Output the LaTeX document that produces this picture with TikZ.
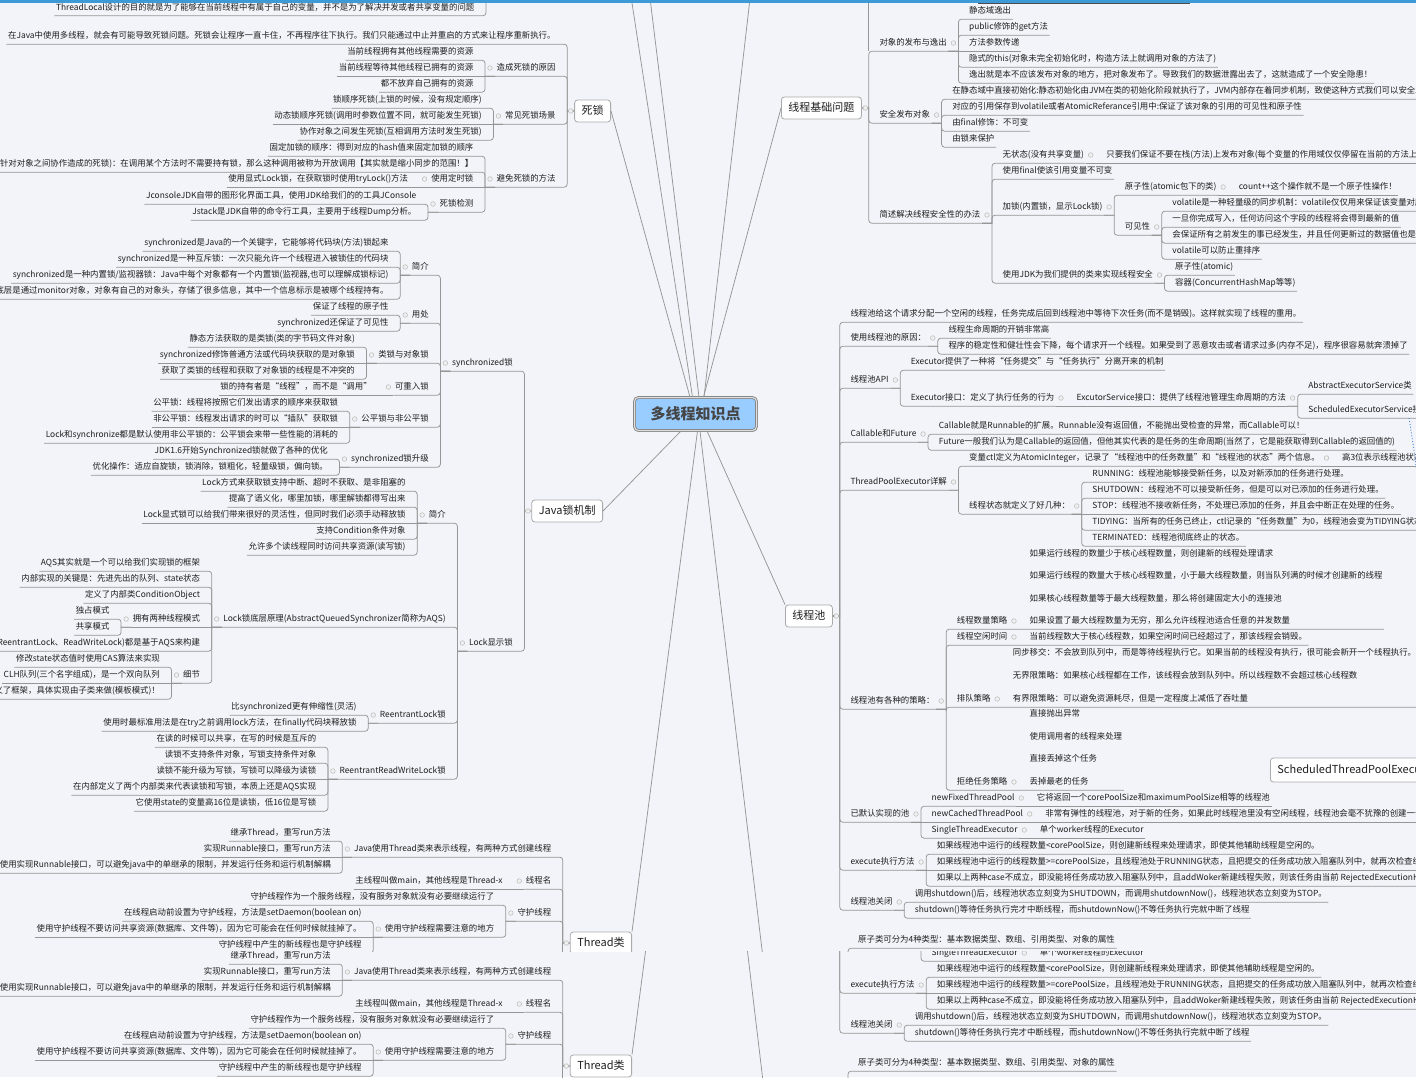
\documentclass[tikz,border=0pt]{standalone}
\usepackage{fontspec}
\setmainfont{Noto Sans CJK SC}
\definecolor{bg}{RGB}{242,244,249}
\definecolor{bar}{RGB}{60,154,215}
\definecolor{ln}{RGB}{150,150,150}
\definecolor{txt}{RGB}{30,30,30}
\definecolor{rootf}{RGB}{153,204,255}
\definecolor{rootd}{RGB}{135,135,135}
\definecolor{roott}{RGB}{70,70,70}
\definecolor{boxd}{RGB}{170,170,170}
\definecolor{relc}{RGB}{60,130,215}
\tikzset{
  tx/.style={inner xsep=1.5pt, inner ysep=3.5pt, text height=7pt, text depth=2pt, font=\fontsize{8.4}{10}\selectfont, text=txt},
  txl/.style={tx, anchor=east},
  txr/.style={tx, anchor=west},
  topic/.style={draw=boxd, fill=white, rounded corners=3pt, line width=0.8pt, font=\fontsize{11}{13}\selectfont, text=txt, inner xsep=7pt, inner ysep=5.5pt, text height=8.5pt, text depth=2.5pt},
  rootbox/.style={draw=rootd, line width=0.9pt, double=white!75!gray, double distance=1pt, fill=rootf, rounded corners=4pt, minimum width=122pt, minimum height=33pt, inner sep=0pt, font=\fontsize{15}{18}\selectfont\bfseries, text=roott},
  conn/.style={draw=ln, line width=0.75pt},
  mk/.style={draw=gray!55, fill=gray!12, line width=0.5pt},
  relline/.style={draw=relc, line width=0.9pt, dotted},
}
% node placement
\newcommand\NL[4]{\node[txl] (#1) at ([xshift=-20pt]#2.west |- 0,#3) {#4};}
\newcommand\NR[4]{\node[txr] (#1) at ([xshift=19pt]#2.east |- 0,#3) {#4};}
\newcommand\NLB[4]{\node[txl] (#1) at ([xshift=-17pt]#2.west |- 0,#3) {#4};}
\newcommand\NRB[4]{\node[txr] (#1) at ([xshift=16pt]#2.east |- 0,#3) {#4};}
% connectors (parent, child)
\newcommand\LL[2]{\draw[conn] (#2.south west) [rounded corners=3pt] -- ([xshift=-10pt]#1.west |- #2.south) [sharp corners] -- ([xshift=-10pt]#1.south west) -- (#1.south west);}
\newcommand\LS[2]{\draw[conn] (#2.south west) -- (#1.south west);}
\newcommand\LB[2]{\draw[conn] (#2.south west) [rounded corners=3pt] -- ([xshift=-7pt]#1.west |- #2.south) [sharp corners] -- ([xshift=-7pt]#1.west) -- (#1.west);}
\newcommand\RR[2]{\draw[conn] (#1.south east) -- ([xshift=10pt]#1.south east) [rounded corners=3pt] -- ([xshift=10pt]#1.east |- #2.south) -- (#2.south east);}
\newcommand\RS[2]{\draw[conn] (#1.south east) -- (#2.south east);}
\newcommand\RB[2]{\draw[conn] (#1.east) -- ([xshift=7pt]#1.east) [rounded corners=3pt] -- ([xshift=7pt]#1.east |- #2.south) -- (#2.south east);}
\newcommand\RRe[3]{\draw[conn] (#1.south east) -- ([xshift=10pt]#1.south east) [rounded corners=3pt] -- ([xshift=10pt]#1.east |- #2.south) -- (#2.south -| #3.east);}
% markers
\newcommand\ML[1]{\filldraw[mk] ([xshift=-5pt]#1.west) circle (2.3pt);}
\newcommand\MR[1]{\filldraw[mk] ([xshift=5pt]#1.east) circle (2.3pt);}
\newcommand\MLB[1]{\filldraw[mk] ([xshift=-3.5pt]#1.west) circle (2.3pt);}
\newcommand\MRB[1]{\filldraw[mk] ([xshift=3.5pt]#1.east) circle (2.3pt);}
\newcommand\Hid[1]{#1}

% ---------- part that also shows in the repeated lower band ----------
\newcommand\PartB{%
\node[rootbox] (root) at (695.5,414) {\Hid{多线程知识点}};
\node[topic,anchor=west] (pool) at (785,616) {\Hid{线程池}};
\node[topic,anchor=east] (thr) at (632,943) {Thread类};
\coordinate (dn) at (768,1000);
\draw[conn] (thr.north east) -- ([xshift=2pt]root.south);
\draw[conn] (dn) -- ([xshift=4.5pt]root.south);
% ===== Thread类 =====
\NLB{t1}{thr}{849}{Java使用Thread类来表示线程，有两种方式创建线程}
\NLB{t2}{thr}{881}{线程名}
\NLB{t3}{thr}{913}{守护线程}
\LB{thr}{t1}\LB{thr}{t2}\LB{thr}{t3}
\draw[conn] ([xshift=-7pt]thr.west) -- ([xshift=-7pt]thr.west |- dn);
\NL{t11}{t1}{833}{继承Thread，重写run方法}
\NL{t12}{t1}{849}{实现Runnable接口，重写run方法}
\NL{t13}{t1}{865}{使用实现Runnable接口，可以避免java中的单继承的限制，并发运行任务和运行机制解耦}
\LL{t1}{t11}\LS{t1}{t12}\LL{t1}{t13}
\NL{t21}{t2}{881}{主线程叫做main，其他线程是Thread-x}
\LS{t2}{t21}
\NL{t31}{t3}{897}{守护线程作为一个服务线程，没有服务对象就没有必要继续运行了}
\NL{t32}{t3}{929}{使用守护线程需要注意的地方}
\LL{t3}{t31}\LL{t3}{t32}
\NL{t321}{t32}{913}{在线程启动前设置为守护线程，方法是setDaemon(boolean on)}
\NL{t322}{t32}{929}{使用守护线程不要访问共享资源(数据库、文件等)，因为它可能会在任何时候就挂掉了。}
\NL{t323}{t32}{945}{守护线程中产生的新线程也是守护线程}
\LL{t32}{t321}\LS{t32}{t322}\LL{t32}{t323}
\MLB{thr}\ML{t1}\ML{t2}\ML{t3}\ML{t32}
% ===== 线程池: lower branches =====
\NRB{p7}{pool}{814}{\Hid{已默认实现的池}}
\NRB{p8}{pool}{862}{execute执行方法}
\NRB{p9}{pool}{902}{线程池关闭}
\RB{pool}{p7}\RB{pool}{p8}\RB{pool}{p9}
\NR{p71}{p7}{798}{\Hid{newFixedThreadPool}}
\NR{p72}{p7}{814}{\Hid{newCachedThreadPool}}
\NR{p73}{p7}{830}{SingleThreadExecutor}
\RR{p7}{p71}\RS{p7}{p72}\RR{p7}{p73}
\NR{p711}{p71}{798}{\Hid{它将返回一个corePoolSize和maximumPoolSize相等的线程池}}
\NR{p721}{p72}{814}{\Hid{非常有弹性的线程池，对于新的任务，如果此时线程池里没有空闲线程，线程池会毫不犹豫的创建一个新的线程去处理这个任务}}
\NR{p731}{p73}{830}{单个worker线程的Executor}
\RS{p71}{p711}\RS{p72}{p721}\RS{p73}{p731}
\NR{p81}{p8}{846}{如果线程池中运行的线程数量<corePoolSize，则创建新线程来处理请求，即使其他辅助线程是空闲的。}
\NR{p82}{p8}{862}{如果线程池中运行的线程数量>=corePoolSize，且线程池处于RUNNING状态，且把提交的任务成功放入阻塞队列中，就再次检查线程池的状态}
\NR{p83}{p8}{878}{如果以上两种case不成立，即没能将任务成功放入阻塞队列中，且addWoker新建线程失败，则该任务由当前 RejectedExecutionHandler进行处理。}
\RR{p8}{p81}\RS{p8}{p82}\RR{p8}{p83}
\NR{p91}{p9}{894}{调用shutdown()后，线程池状态立刻变为SHUTDOWN，而调用shutdownNow()，线程池状态立刻变为STOP。}
\NR{p92}{p9}{910}{shutdown()等待任务执行完才中断线程，而shutdownNow()不等任务执行完就中断了线程}
\RR{p9}{p91}\RR{p9}{p92}
\MR{p7}\MR{p71}\MR{p72}\MR{p73}\MR{p8}\MR{p9}
% ===== 原子类 fragment =====
\node[txr] (atom) at (856.5,940) {原子类可分为4种类型：基本数据类型、数组、引用类型、对象的属性};
\coordinate (atomp) at (848,1010);
\draw[conn] (atom.south east) [rounded corners=3pt] -- (atom.south -| atomp) -- (atomp);
}

% ---------- part shown only once ----------
\newcommand\PartA{%
\node[topic,anchor=east] (dead) at (611,111) {死锁};
\node[topic,anchor=west] (basic) at (781,108) {线程基础问题};
\node[topic,anchor=east] (jlock) at (603,511) {Java锁机制};
\coordinate (up1) at (630,-10);
\coordinate (up2) at (649,-10);
\coordinate (up3) at (751,-10);
\draw[conn] (up1) -- ([xshift=-3pt]root.north);
\draw[conn] (up2) -- ([xshift=3.5pt]root.north);
\draw[conn] (up3) -- ([xshift=8.5pt]root.north);
\draw[conn] (dead.east) -- ([xshift=-5.5pt]root.north);
\draw[conn] (basic.west) -- ([xshift=8pt]root.north);
\draw[conn] (jlock.east) -- ([xshift=-14.5pt]root.south);
\draw[conn] (pool.north west) -- ([xshift=11.5pt]root.south);
% fragments at the top
\node[txl] (tlo) at (476,7.5) {ThreadLocal设计的目的就是为了能够在当前线程中有属于自己的变量，并不是为了解决并发或者共享变量的问题};
\coordinate (tlp) at (486,-20);
\draw[conn] (tlo.south west) [rounded corners=3pt] -- (tlo.south -| tlp) -- (tlp);
\coordinate (trA) at (978,3.5);
\coordinate (trB) at (1190,3.5);
\draw[conn,draw=gray!60!black] (trA) -- (trB);
% ===== 死锁 =====
\NLB{d1}{dead}{36}{在Java中使用多线程，就会有可能导致死锁问题。死锁会让程序一直卡住，不再程序往下执行。我们只能通过中止并重启的方式来让程序重新执行。}
\NLB{d2}{dead}{68}{造成死锁的原因}
\NLB{d3}{dead}{116}{常见死锁场景}
\NLB{d4}{dead}{179}{避免死锁的方法}
\LB{dead}{d1}\LB{dead}{d2}\LB{dead}{d3}\LB{dead}{d4}
\NL{d21}{d2}{52}{当前线程拥有其他线程需要的资源}
\NL{d22}{d2}{68}{当前线程等待其他线程已拥有的资源}
\NL{d23}{d2}{84}{都不放弃自己拥有的资源}
\LL{d2}{d21}\LS{d2}{d22}\LL{d2}{d23}
\NL{d31}{d3}{100}{锁顺序死锁(上锁的时候，没有规定顺序)}
\NL{d32}{d3}{116}{动态锁顺序死锁(调用时参数位置不同，就可能发生死锁)}
\NL{d33}{d3}{132}{协作对象之间发生死锁(互相调用方法时发生死锁)}
\LL{d3}{d31}\LS{d3}{d32}\LL{d3}{d33}
\NL{d41}{d4}{148}{固定加锁的顺序：得到对应的hash值来固定加锁的顺序}
\NL{d42}{d4}{164}{开放调用(针对对象之间协作造成的死锁)：在调用某个方法时不需要持有锁，那么这种调用被称为开放调用【其实就是缩小同步的范围！】}
\NL{d43}{d4}{179}{使用定时锁}
\NL{d44}{d4}{204}{死锁检测}
\LL{d4}{d41}\LL{d4}{d42}\LS{d4}{d43}\LL{d4}{d44}
\NL{d431}{d43}{179}{使用显式Lock锁，在获取锁时使用tryLock()方法}
\LS{d43}{d431}
\NL{d441}{d44}{196}{JconsoleJDK自带的图形化界面工具，使用JDK给我们的的工具JConsole}
\NL{d442}{d44}{212}{Jstack是JDK自带的命令行工具，主要用于线程Dump分析。}
\LL{d44}{d441}\LL{d44}{d442}
\MLB{dead}\ML{d2}\ML{d3}\ML{d4}\ML{d43}\ML{d44}
% ===== 线程基础问题 =====
\NRB{b1}{basic}{43}{对象的发布与逸出}
\NRB{b2}{basic}{115}{安全发布对象}
\NRB{b3}{basic}{215}{简述解决线程安全性的办法}
\RB{basic}{b1}\RB{basic}{b2}\RB{basic}{b3}
\draw[conn] ([xshift=7pt]basic.east |- b1.south) -- ([xshift=7pt]basic.east |- up1);
\NR{b11}{b1}{11}{静态域逸出}
\NR{b12}{b1}{27}{public修饰的get方法}
\NR{b13}{b1}{43}{方法参数传递}
\NR{b14}{b1}{59}{隐式的this(对象未完全初始化时，构造方法上就调用对象的方法了)}
\NR{b15}{b1}{75}{逸出就是本不应该发布对象的地方，把对象发布了。导致我们的数据泄露出去了，这就造成了一个安全隐患！}
\RR{b1}{b11}\RR{b1}{b12}\RS{b1}{b13}\RR{b1}{b14}\RR{b1}{b15}
\NR{b21}{b2}{91}{在静态域中直接初始化:静态初始化由JVM在类的初始化阶段就执行了，JVM内部存在着同步机制，致使这种方式我们可以安全发布对象}
\NR{b22}{b2}{107}{对应的引用保存到volatile或者AtomicReferance引用中:保证了该对象的引用的可见性和原子性}
\NR{b23}{b2}{123}{由final修饰：不可变}
\NR{b24}{b2}{139}{由锁来保护}
\RR{b2}{b21}\RR{b2}{b22}\RR{b2}{b23}\RR{b2}{b24}
\NR{b31}{b3}{155}{无状态(没有共享变量)}
\NR{b32}{b3}{171}{使用final使该引用变量不可变}
\NR{b33}{b3}{207}{加锁(内置锁，显示Lock锁)}
\NR{b34}{b3}{275}{使用JDK为我们提供的类来实现线程安全}
\RR{b3}{b31}\RR{b3}{b32}\RR{b3}{b33}\RR{b3}{b34}
\NR{b311}{b31}{155}{只要我们保证不要在栈(方法)上发布对象(每个变量的作用域仅仅停留在当前的方法上)，那么我们的线程就是安全的}
\RS{b31}{b311}
\NR{b331}{b33}{187}{原子性(atomic包下的类)}
\NR{b332}{b33}{227}{可见性}
\RR{b33}{b331}\RR{b33}{b332}
\NR{b3311}{b331}{187}{count++这个操作就不是一个原子性操作！}
\RS{b331}{b3311}
\NR{b3321}{b332}{203}{volatile是一种轻量级的同步机制：volatile仅仅用来保证该变量对所有线程的可见性，但不保证原子性}
\NR{b3322}{b332}{219}{一旦你完成写入，任何访问这个字段的线程将会得到最新的值}
\NR{b3323}{b332}{235}{会保证所有之前发生的事已经发生，并且任何更新过的数据值也是可见的}
\NR{b3324}{b332}{251}{volatile可以防止重排序}
\RR{b332}{b3321}\RR{b332}{b3322}\RR{b332}{b3323}\RR{b332}{b3324}
\NR{b341}{b34}{267}{原子性(atomic)}
\NR{b342}{b34}{283}{容器(ConcurrentHashMap等等)}
\RR{b34}{b341}\RR{b34}{b342}
\MRB{basic}\MR{b1}\MR{b2}\MR{b3}\MR{b31}\MR{b33}\MR{b331}\MR{b332}\MR{b34}
% ===== Java锁机制 =====
\NLB{s}{jlock}{363}{synchronized锁}
\NLB{L}{jlock}{643}{Lock显示锁}
\LB{jlock}{s}\LB{jlock}{L}
\NL{s1}{s}{267}{简介}
\NL{s2}{s}{315}{用处}
\NL{s3}{s}{355}{类锁与对象锁}
\NL{s4}{s}{387}{可重入锁}
\NL{s5}{s}{419}{公平锁与非公平锁}
\NL{s6}{s}{459}{synchronized锁升级}
\LL{s}{s1}\LL{s}{s2}\LL{s}{s3}\LL{s}{s4}\LL{s}{s5}\LL{s}{s6}
\NL{s11}{s1}{243}{synchronized是Java的一个关键字，它能够将代码块(方法)锁起来}
\NL{s12}{s1}{259}{synchronized是一种互斥锁：一次只能允许一个线程进入被锁住的代码块}
\NL{s13}{s1}{275}{synchronized是一种内置锁/监视器锁：Java中每个对象都有一个内置锁(监视器,也可以理解成锁标记)}
\NL{s14}{s1}{291}{synchronized底层是通过monitor对象，对象有自己的对象头，存储了很多信息，其中一个信息标示是被哪个线程持有。}
\LL{s1}{s11}\LL{s1}{s12}\LL{s1}{s13}\LL{s1}{s14}
\NL{s21}{s2}{307}{保证了线程的原子性}
\NL{s22}{s2}{323}{synchronized还保证了可见性}
\LL{s2}{s21}\LL{s2}{s22}
\NL{s31}{s3}{339}{静态方法获取的是类锁(类的字节码文件对象)}
\NL{s32}{s3}{355}{synchronized修饰普通方法或代码块获取的是对象锁}
\NL{s33}{s3}{371}{获取了类锁的线程和获取了对象锁的线程是不冲突的}
\LL{s3}{s31}\LS{s3}{s32}\LL{s3}{s33}
\NL{s41}{s4}{387}{锁的持有者是“线程”，而不是“调用”}
\LS{s4}{s41}
\NL{s51}{s5}{403}{公平锁：线程将按照它们发出请求的顺序来获取锁}
\NL{s52}{s5}{419}{非公平锁：线程发出请求的时可以“插队”获取锁}
\NL{s53}{s5}{435}{Lock和synchronize都是默认使用非公平锁的：公平锁会来带一些性能的消耗的}
\LL{s5}{s51}\LS{s5}{s52}\LL{s5}{s53}
\NL{s61}{s6}{451}{JDK1.6开始Synchronized锁就做了各种的优化}
\NL{s62}{s6}{467}{优化操作：适应自旋锁，锁消除，锁粗化，轻量级锁，偏向锁。}
\LL{s6}{s61}\LL{s6}{s62}
\NL{L1}{L}{515}{简介}
\NL{L2}{L}{619}{Lock锁底层原理(AbstractQueuedSynchronizer简称为AQS)}
\NL{L3}{L}{715}{ReentrantLock锁}
\NL{L4}{L}{771}{ReentrantReadWriteLock锁}
\LL{L}{L1}\LL{L}{L2}\LL{L}{L3}\LL{L}{L4}
\NL{L11}{L1}{483}{Lock方式来获取锁支持中断、超时不获取、是非阻塞的}
\NL{L12}{L1}{499}{提高了语义化，哪里加锁，哪里解锁都得写出来}
\NL{L13}{L1}{515}{Lock显式锁可以给我们带来很好的灵活性，但同时我们必须手动释放锁}
\NL{L14}{L1}{531}{支持Condition条件对象}
\NL{L15}{L1}{547}{允许多个读线程同时访问共享资源(读写锁)}
\LL{L1}{L11}\LL{L1}{L12}\LS{L1}{L13}\LL{L1}{L14}\LL{L1}{L15}
\NL{L21}{L2}{563}{AQS其实就是一个可以给我们实现锁的框架}
\NL{L22}{L2}{579}{内部实现的关键是：先进先出的队列、state状态}
\NL{L23}{L2}{595}{定义了内部类ConditionObject}
\NL{L24}{L2}{619}{拥有两种线程模式}
\NL{L25}{L2}{643}{很多同步器(ReentrantLock、ReadWriteLock)都是基于AQS来构建}
\NL{L26}{L2}{675}{细节}
\LL{L2}{L21}\LL{L2}{L22}\LL{L2}{L23}\LS{L2}{L24}\LL{L2}{L25}\LL{L2}{L26}
\NL{L241}{L24}{611}{独占模式}
\NL{L242}{L24}{627}{共享模式}
\LL{L24}{L241}\LL{L24}{L242}
\NL{L261}{L26}{659}{修改state状态值时使用CAS算法来实现}
\NL{L262}{L26}{675}{CLH队列(三个名字组成)，是一个双向队列}
\NL{L263}{L26}{691}{AQS定义了框架，具体实现由子类来做(模板模式)！}
\LL{L26}{L261}\LS{L26}{L262}\LL{L26}{L263}
\NL{L31}{L3}{707}{比synchronized更有伸缩性(灵活)}
\NL{L32}{L3}{723}{使用时最标准用法是在try之前调用lock方法，在finally代码块释放锁}
\LL{L3}{L31}\LL{L3}{L32}
\NL{L41}{L4}{739}{在读的时候可以共享，在写的时候是互斥的}
\NL{L42}{L4}{755}{读锁不支持条件对象，写锁支持条件对象}
\NL{L43}{L4}{771}{读锁不能升级为写锁，写锁可以降级为读锁}
\NL{L44}{L4}{787}{在内部定义了两个内部类来代表读锁和写锁，本质上还是AQS实现}
\NL{L45}{L4}{803}{它使用state的变量高16位是读锁，低16位是写锁}
\LL{L4}{L41}\LL{L4}{L42}\LS{L4}{L43}\LL{L4}{L44}\LL{L4}{L45}
\MLB{jlock}\ML{s}\ML{L}\ML{s1}\ML{s2}\ML{s3}\ML{s4}\ML{s5}\ML{s6}\ML{L1}\ML{L2}\ML{L24}\ML{L26}\ML{L3}\ML{L4}
% ===== 线程池: upper branches =====
\NRB{p1}{pool}{314}{线程池给这个请求分配一个空闲的线程，任务完成后回到线程池中等待下次任务(而不是销毁)。这样就实现了线程的重用。}
\NRB{p2}{pool}{338}{使用线程池的原因：}
\NRB{p3}{pool}{380}{线程池API}
\NRB{p4}{pool}{434}{Callable和Future}
\NRB{p5}{pool}{482}{ThreadPoolExecutor详解}
\NRB{p6}{pool}{701}{线程池有各种的策略：}
\RB{pool}{p1}\RB{pool}{p2}\RB{pool}{p3}\RB{pool}{p4}\RB{pool}{p5}\RB{pool}{p6}
\NR{p21}{p2}{330}{线程生命周期的开销非常高}
\NR{p22}{p2}{346}{程序的稳定性和健壮性会下降，每个请求开一个线程。如果受到了恶意攻击或者请求过多(内存不足)，程序很容易就奔溃掉了}
\RR{p2}{p21}\RR{p2}{p22}
\NR{p31}{p3}{362}{Executor提供了一种将“任务提交”与“任务执行”分离开来的机制}
\NR{p32}{p3}{398}{Executor接口：定义了执行任务的行为}
\RR{p3}{p31}\RR{p3}{p32}
\NR{p321}{p32}{398}{ExcutorService接口：提供了线程池管理生命周期的方法}
\RS{p32}{p321}
\NR{p3211}{p321}{386}{AbstractExecutorService类}
\NR{p3212}{p321}{410}{ScheduledExecutorService接口}
\RR{p321}{p3211}\RR{p321}{p3212}
\NR{p41}{p4}{426}{Callable就是Runnable的扩展。Runnable没有返回值，不能抛出受检查的异常，而Callable可以！}
\NR{p42}{p4}{442}{Future一般我们认为是Callable的返回值，但他其实代表的是任务的生命周期(当然了，它是能获取得到Callable的返回值的)}
\RR{p4}{p41}\RR{p4}{p42}
\NR{p51}{p5}{458}{变量ctl定义为AtomicInteger，记录了“线程池中的任务数量”和“线程池的状态”两个信息。}
\NR{p52}{p5}{506}{线程状态就定义了好几种：}
\RR{p5}{p51}\RR{p5}{p52}
\NR{p511}{p51}{458}{高3位表示线程池状态，低29位表示线程池中的任务数量}
\RS{p51}{p511}
\NR{p521}{p52}{474}{RUNNING：线程池能够接受新任务，以及对新添加的任务进行处理。}
\NR{p522}{p52}{490}{SHUTDOWN：线程池不可以接受新任务，但是可以对已添加的任务进行处理。}
\NR{p523}{p52}{506}{STOP：线程池不接收新任务，不处理已添加的任务，并且会中断正在处理的任务。}
\NR{p524}{p52}{522}{TIDYING：当所有的任务已终止，ctl记录的“任务数量”为0，线程池会变为TIDYING状态。}
\NR{p525}{p52}{538}{TERMINATED：线程池彻底终止的状态。}
\RR{p52}{p521}\RR{p52}{p522}\RS{p52}{p523}\RR{p52}{p524}\RR{p52}{p525}
\NR{p61}{p6}{621}{线程数量策略}
\NR{p62}{p6}{637}{线程空闲时间}
\NR{p63}{p6}{699}{排队策略}
\NR{p64}{p6}{782}{拒绝任务策略}
\NR{q1}{p61}{554}{如果运行线程的数量少于核心线程数量，则创建新的线程处理请求}
\NR{q2}{p61}{576}{如果运行线程的数量大于核心线程数量，小于最大线程数量，则当队列满的时候才创建新的线程}
\NR{q3}{p61}{599}{如果核心线程数量等于最大线程数量，那么将创建固定大小的连接池}
\NR{q4}{p61}{621}{如果设置了最大线程数量为无穷，那么允许线程池适合任意的并发数量}
\NR{q5}{p62}{637}{当前线程数大于核心线程数，如果空闲时间已经超过了，那该线程会销毁。}
\NR{q6}{p63}{653}{同步移交：不会放到队列中，而是等待线程执行它。如果当前的线程没有执行，很可能会新开一个线程执行。}
\NR{q7}{p63}{676}{无界限策略：如果核心线程都在工作，该线程会放到队列中。所以线程数不会超过核心线程数}
\NR{q8}{p63}{699}{有界限策略：可以避免资源耗尽，但是一定程度上减低了吞吐量}
\NR{q9}{p64}{714}{直接抛出异常}
\NR{q10}{p64}{737}{使用调用者的线程来处理}
\NR{q11}{p64}{759}{直接丢掉这个任务}
\NR{q12}{p64}{782}{丢掉最老的任务}
\RRe{p6}{p61}{q2}\RRe{p6}{p62}{q5}\RRe{p6}{p63}{q6}\RRe{p6}{p64}{q10}
\MRB{pool}\MR{p2}\MR{p3}\MR{p32}\MR{p321}\MR{p4}\MR{p5}\MR{p51}\MR{p52}\MR{p6}\MR{p61}\MR{p62}\MR{p63}\MR{p64}
% floating topic and relationship
\node[topic,anchor=west,inner ysep=6.5pt] (sched) at (1270,770) {ScheduledThreadPoolExecutor};
\draw[relline] (p3212.south -| 1409,0) .. controls (1418,470) and (1440,650) .. (sched.north east);
}

\begin{document}
\begin{tikzpicture}[x=1pt,y=-1pt]
\useasboundingbox (0,0) rectangle (1416,1077);
\fill[bg] (0,0) rectangle (1416,1077);
\begin{scope}
\clip (0,0) rectangle (1416,951);
\PartB
\PartA
\end{scope}
\begin{scope}
\renewcommand\Hid[1]{\phantom{#1}}
\clip (0,951) rectangle (1416,1077);
\begin{scope}[shift={(0,123)}, name prefix=b-]
\PartB
\end{scope}
\end{scope}
\fill[bar] (0,0) rectangle (1416,3);
\end{tikzpicture}
\end{document}
